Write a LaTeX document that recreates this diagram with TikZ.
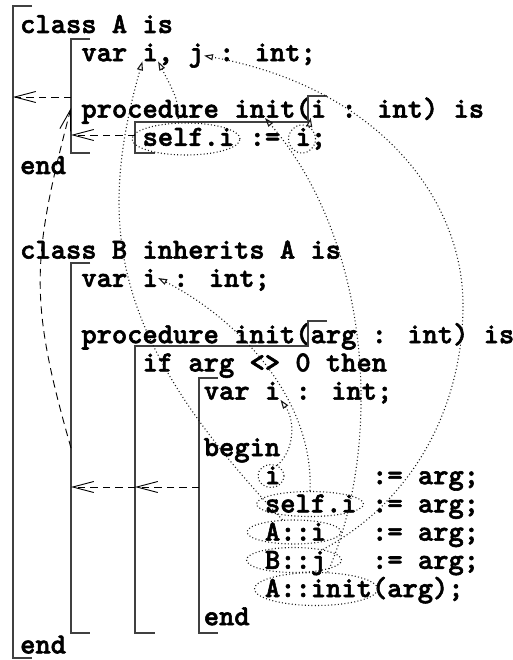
\documentclass[tikz,border=0pt]{standalone}
\usepackage{fontspec}
\usetikzlibrary{arrows.meta,shapes.geometric}
\newfontfamily\codefont{lmmonolt10-bold.otf}[FakeBold=2]
\newcommand\codefnt{\fontsize{29.1}{30}\selectfont\codefont}
\newcommand\tk[4]{\node[tok] (#1) at ({20+#2*15.3},{33+#3*28.2}) {#4};}
\begin{document}
\begin{tikzpicture}[x=1pt,y=-1pt,
  tok/.style={inner sep=0pt, anchor=base west, font=\codefnt},
  scopeline/.style={draw=black!75, line width=1.2pt},
  ell/.style={draw=black!90, ellipse, inner sep=0pt, line width=1.1pt, dash pattern=on 1pt off 2.3pt},
  ref/.style={draw=black!90, line width=1.1pt, dash pattern=on 1pt off 2.5pt,
    -{Triangle[open,length=9pt,width=6pt]}},
  link/.style={draw=black, line width=0.9pt, dash pattern=on 7.5pt off 5pt,
    -{Straight Barb[length=21pt,width=11pt]}}]
\useasboundingbox (0,0) rectangle (513,660);

% ---- code text ----
\tk{classA}{0}{0}{class A is}
\tk{varA}{4}{1}{var}
\tk{iA}{8}{1}{i}
\tk{commaA}{9}{1}{,}
\tk{jA}{11}{1}{j}
\tk{intA}{13}{1}{: int;}
\tk{procA}{4}{3}{procedure}
\tk{initA}{14}{3}{init}
\tk{parenA}{18}{3}{(}
\tk{iParA}{19}{3}{i}
\tk{restA}{21}{3}{: int) is}
\tk{selfA}{8}{4}{self.i}
\tk{asgA}{15}{4}{:=}
\tk{iRhsA}{18}{4}{i}
\tk{semiA}{19}{4}{;}
\tk{endA}{0}{5}{end}
\tk{classB}{0}{8}{class B inherits A is}
\tk{varB}{4}{9}{var}
\tk{iB}{8}{9}{i}
\tk{intB}{10}{9}{: int;}
\tk{procB}{4}{11}{procedure init(arg : int) is}
\tk{ifB}{8}{12}{if arg <> 0 then}
\tk{varC}{12}{13}{var}
\tk{iC}{16}{13}{i}
\tk{intC}{18}{13}{: int;}
\tk{beginC}{12}{15}{begin}
\tk{iD}{16}{16}{i}
\tk{asg1}{23}{16}{:= arg;}
\tk{selfB}{16}{17}{self.i}
\tk{asg2}{23}{17}{:= arg;}
\tk{Ai}{16}{18}{A::i}
\tk{asg3}{23}{18}{:= arg;}
\tk{Bj}{16}{19}{B::j}
\tk{asg4}{23}{19}{:= arg;}
\tk{Ainit}{16}{20}{A::init(arg);}
\tk{endC}{12}{21}{end}
\tk{endB}{0}{22}{end}

% ---- scope brackets ----
\draw[scopeline] (32,6) -- (13,6) -- (13,658) -- (32,658);
\draw[scopeline] (90,39) -- (71,39) -- (71,153) -- (90,153);
\draw[scopeline] (327,96) -- (308,96) -- (308,122) -- (135,122) -- (135,153) -- (155,153);
\draw[scopeline] (90,263) -- (71,263) -- (71,633) -- (90,633);
\draw[scopeline] (327,321) -- (308,321) -- (308,346) -- (135,346) -- (135,633) -- (155,633);
\draw[scopeline] (218,378) -- (199,378) -- (199,633) -- (218,633);

% ---- bracket link points ----
\coordinate (outA) at (13,97);
\coordinate (bodyA1) at (71,97);
\coordinate (bodyA2) at (71,135);
\coordinate (bodyA3) at (71,108);
\coordinate (procAc) at (135,135);
\coordinate (bodyB1) at (71,448);
\coordinate (bodyB2) at (71,487);
\coordinate (procBc) at (135,487);
\coordinate (varCc) at (199,487);

% ---- ellipses ----
\node[ell, minimum width=108pt, minimum height=32pt] (eSelfA) at (186,139) {};
\node[ell, minimum width=27pt, minimum height=28pt] (eIA) at (302,139) {};
\node[ell, minimum width=26pt, minimum height=23pt] (eIB) at (271,476) {};
\node[ell, minimum width=107pt, minimum height=25pt] (eSelfB) at (310,504) {};
\node[ell, minimum width=94pt, minimum height=24pt] (eAi) at (294,532) {};
\node[ell, minimum width=95pt, minimum height=25pt] (eBj) at (294,560) {};
\node[ell, minimum width=123pt, minimum height=33pt] (eAinit) at (316,589) {};

% ---- scope links (dashed) ----
\draw[link] (bodyA1) -- (outA);
\draw[link] (procAc) -- (bodyA2);
\draw[link] (varCc) -- (procBc);
\draw[link] (procBc) -- (bodyB2);
\draw[link] (bodyB1) .. controls (29,301) and (31,260) .. (bodyA3);

% ---- references (dotted) ----
\draw[ref] (eSelfA.115) .. controls (178,100) .. (iA.south east);
\draw[ref] (eIA.60) -- (iParA.south west);
\draw[ref] (eAi) .. controls (116,344) and (94,233) .. (iA.south west);
\draw[ref] (eBj.20) .. controls (415,500) and (463,405) .. (463,305)
  .. controls (463,200) and (380,88) .. (jA.east);
\draw[ref] (eAinit.55) .. controls (385,440) and (370,240) .. (initA.south);
\draw[ref] (eSelfB.north) .. controls (314,400) and (240,320) .. (iB.east);
\draw[ref] (eIB.60) .. controls (295,450) and (295,420) .. (iC.south east);
\end{tikzpicture}
\end{document}
